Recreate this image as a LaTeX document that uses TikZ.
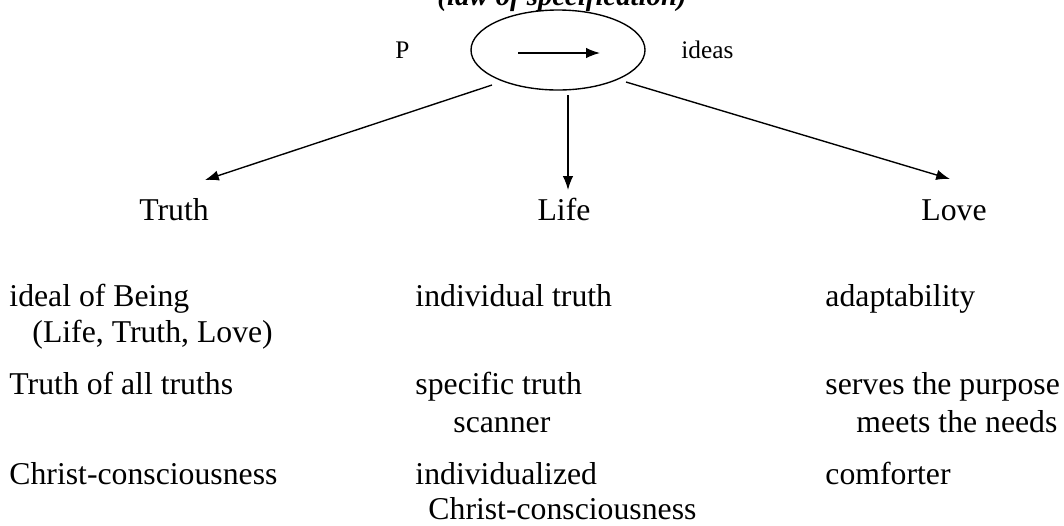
\documentclass[tikz,border=0pt]{standalone}
\usepackage{fontspec}
\setmainfont{Liberation Serif}
\usetikzlibrary{positioning}
\usetikzlibrary{arrows.meta}
\usetikzlibrary{shapes.geometric}

\begin{document}
\begin{tikzpicture}[x=0.4348pt, y=-0.4348pt,
    txt/.style = {anchor=base west, inner sep=0pt, font=\fontsize{13.8}{16}\selectfont},
    head/.style = {anchor=base, inner sep=0pt, font=\fontsize{13.8}{16}\selectfont},
    small/.style = {anchor=base west, inner sep=0pt, font=\fontsize{11}{13}\selectfont},
    arr/.style = {line width=0.6pt, -{Latex[length=6pt, width=4.5pt]}}]
    \useasboundingbox (0,0) rectangle (1064,525);

    \node[anchor=base, inner sep=0pt, font=\fontsize{12.5}{15}\selectfont\bfseries\itshape] (law) at (562,5) {(law of specification)};
    \node[draw, ellipse, line width=0.6pt, minimum width=174*0.4348pt, minimum height=80*0.4348pt, inner sep=0pt] (hub) at (558,50) {};
    \node[small] (P) at (395,58) {P};
    \node[small] (ideas) at (681,58) {ideas};
    \coordinate (in1) at (518,53);
    \coordinate (in2) at (600,53);
    \draw[arr] (in1) -- (in2);

    \node[head] (truth) at (174,220) {Truth};
    \node[head] (life) at (564,220) {Life};
    \node[head] (love) at (954,220) {Love};

    % arrows out of the ellipse
    \coordinate (s1) at (492,85);
    \coordinate (e1) at (205,180);
    \coordinate (s2) at (568,95);
    \coordinate (e2) at (568,190);
    \coordinate (s3) at (626,82);
    \coordinate (e3) at (950,179);
    \draw[arr] (s1) -- (e1);
    \draw[arr] (s2) -- (e2);
    \draw[arr] (s3) -- (e3);

    % Truth column
    \node[txt] (t1) at (9,306) {ideal of Being};
    \node[txt] (t1b) at (32,342) {(Life, Truth, Love)};
    \node[txt] (t2) at (9,394) {Truth of all truths};
    \node[txt] (t3) at (9,484) {Christ-consciousness};

    % Life column
    \node[txt] (l1) at (415,306) {individual truth};
    \node[txt] (l2) at (415,394) {specific truth};
    \node[txt] (l2b) at (453,432) {scanner};
    \node[txt] (l3) at (415,484) {individualized};
    \node[txt] (l3b) at (428,519) {Christ-consciousness};

    % Love column
    \node[txt] (v1) at (825,306) {adaptability};
    \node[txt] (v2) at (825,394) {serves the purpose};
    \node[txt] (v2b) at (856,432) {meets the needs};
    \node[txt] (v3) at (825,484) {comforter};
\end{tikzpicture}
\end{document}
